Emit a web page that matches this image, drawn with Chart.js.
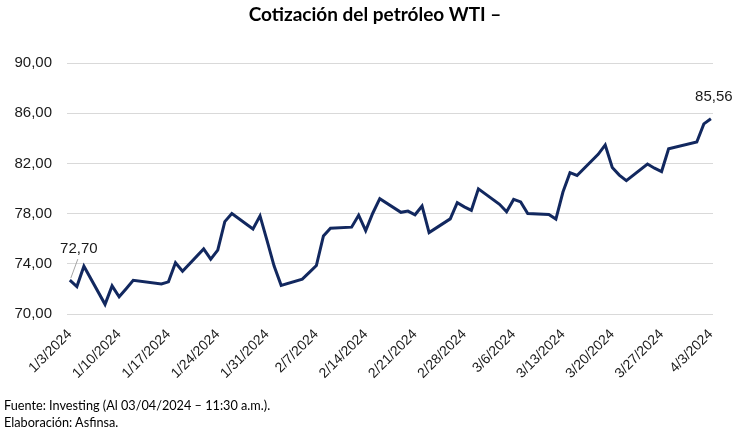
<!DOCTYPE html>
<html>
<head>
<meta charset="utf-8">
<script src="https://cdn.jsdelivr.net/npm/chart.js@4"></script>
<style>
  body { margin: 0; background: #fff; }
  #wrap { position: relative; width: 750px; height: 444px; }
  #titulo { position: absolute; left: 0; top: 4px; width: 750px; text-align: center;
    font: bold 19px Lato, "Open Sans", sans-serif; line-height: 20px; color: #000; }
  #nota { position: absolute; left: 4px; top: 397px;
    font: 12.7px Lato, "Open Sans", sans-serif; line-height: 17px; color: #000; }
  canvas { position: absolute; left: 0; top: 0; }
</style>
</head>
<body>
<div id="wrap">
  <canvas id="wtiChart" width="750" height="444"></canvas>
  <div id="titulo">Cotización del petróleo WTI –</div>
  <div id="nota">Fuente: Investing (Al 03/04/2024 – 11:30 a.m.).<br>Elaboración: Asfinsa.</div>
</div>
<script>
// fechas de cotización (dias habiles) y precio de cierre WTI
const fechas = [
  "2024-01-03","2024-01-04","2024-01-05","2024-01-08","2024-01-09","2024-01-10","2024-01-11","2024-01-12",
  "2024-01-16","2024-01-17","2024-01-18","2024-01-19","2024-01-22","2024-01-23","2024-01-24","2024-01-25",
  "2024-01-26","2024-01-29","2024-01-30","2024-01-31","2024-02-01","2024-02-02","2024-02-05","2024-02-06",
  "2024-02-07","2024-02-08","2024-02-09","2024-02-12","2024-02-13","2024-02-14","2024-02-15","2024-02-16",
  "2024-02-19","2024-02-20","2024-02-21","2024-02-22","2024-02-23","2024-02-26","2024-02-27","2024-02-28",
  "2024-02-29","2024-03-01","2024-03-04","2024-03-05","2024-03-06","2024-03-07","2024-03-08","2024-03-11",
  "2024-03-12","2024-03-13","2024-03-14","2024-03-15","2024-03-18","2024-03-19","2024-03-20","2024-03-21",
  "2024-03-22","2024-03-25","2024-03-26","2024-03-27","2024-03-28","2024-04-01","2024-04-02","2024-04-03"
];
const precios = [
  72.70, 72.19, 73.81, 70.77, 72.24, 71.37, 72.02, 72.68,
  72.40, 72.56, 74.08, 73.41, 75.19, 74.37, 75.09, 77.36,
  78.01, 76.78, 77.82, 75.85, 73.82, 72.28, 72.78, 73.31,
  73.86, 76.22, 76.84, 76.92, 77.87, 76.64, 78.03, 79.19,
  78.10, 78.20, 77.91, 78.61, 76.49, 77.58, 78.87, 78.54,
  78.26, 79.97, 78.74, 78.15, 79.13, 78.93, 78.01, 77.93,
  77.56, 79.72, 81.26, 81.04, 82.72, 83.47, 81.68, 81.07,
  80.63, 81.95, 81.62, 81.35, 83.17, 83.71, 85.15, 85.56
];
// etiquetas del eje x (cada semana)
const etiquetasX = [
  "1/3/2024","1/10/2024","1/17/2024","1/24/2024","1/31/2024","2/7/2024","2/14/2024",
  "2/21/2024","2/28/2024","3/6/2024","3/13/2024","3/20/2024","3/27/2024","4/3/2024"
];
const ticksY = [70, 74, 78, 82, 86, 90];

const DIA = 86400000;
const inicio = Date.parse(fechas[0]);
const puntos = fechas.map((f, i) => ({ x: (Date.parse(f) - inicio) / DIA, y: precios[i] }));

const fmt = v => v.toFixed(2).replace(".", ",");

// etiquetas del primer y ultimo dato
const etiquetasDatos = {
  id: "etiquetasDatos",
  afterDatasetsDraw(chart) {
    const pts = chart.getDatasetMeta(0).data;
    const p0 = pts[0], pN = pts[pts.length - 1];
    const ctx = chart.ctx;
    ctx.save();
    ctx.font = "15px 'Liberation Sans', Arial, sans-serif";
    ctx.fillStyle = "#1a1a1a";
    ctx.textAlign = "center";
    ctx.textBaseline = "middle";
    ctx.fillText(fmt(precios[0]), p0.x + 9, p0.y - 31);
    ctx.fillText(fmt(precios[precios.length - 1]), pN.x + 3, pN.y - 22);
    ctx.strokeStyle = "#a6a6a6";
    ctx.lineWidth = 1;
    ctx.beginPath();
    ctx.moveTo(p0.x + 8, p0.y - 21);
    ctx.lineTo(p0.x + 1, p0.y - 2);
    ctx.stroke();
    ctx.restore();
  }
};

new Chart(document.getElementById("wtiChart"), {
  type: "line",
  data: {
    datasets: [{
      data: puntos,
      borderColor: "#12285f",
      borderWidth: 3,
      pointRadius: 0,
      tension: 0,
      fill: false
    }]
  },
  options: {
    responsive: false,
    animation: false,
    layout: { padding: { top: 63, right: 37, left: 0, bottom: 0 } },
    plugins: { legend: { display: false }, tooltip: { enabled: false } },
    scales: {
      x: {
        type: "linear",
        min: -0.4,
        max: 91.3,
        afterBuildTicks: s => { s.ticks = etiquetasX.map((t, i) => ({ value: i * 7 })); },
        afterFit: s => { s.height = 130; },
        grid: { display: false },
        border: { display: false },
        ticks: {
          autoSkip: false,
          maxRotation: 45,
          minRotation: 45,
          padding: 4,
          color: "#1a1a1a",
          font: { family: "'Liberation Sans', Arial, sans-serif", size: 14 },
          callback: (v) => etiquetasX[Math.round(v / 7)]
        }
      },
      y: {
        min: 70,
        max: 90,
        afterBuildTicks: s => { s.ticks = ticksY.map(v => ({ value: v })); },
        afterFit: s => { s.width = 67; },
        grid: { color: "#d9d9d9", lineWidth: 1, drawTicks: false },
        border: { display: false },
        ticks: {
          padding: 15,
          color: "#1a1a1a",
          font: { family: "'Liberation Sans', Arial, sans-serif", size: 15 },
          callback: v => fmt(v)
        }
      }
    }
  },
  plugins: [etiquetasDatos]
});
</script>
</body>
</html>
